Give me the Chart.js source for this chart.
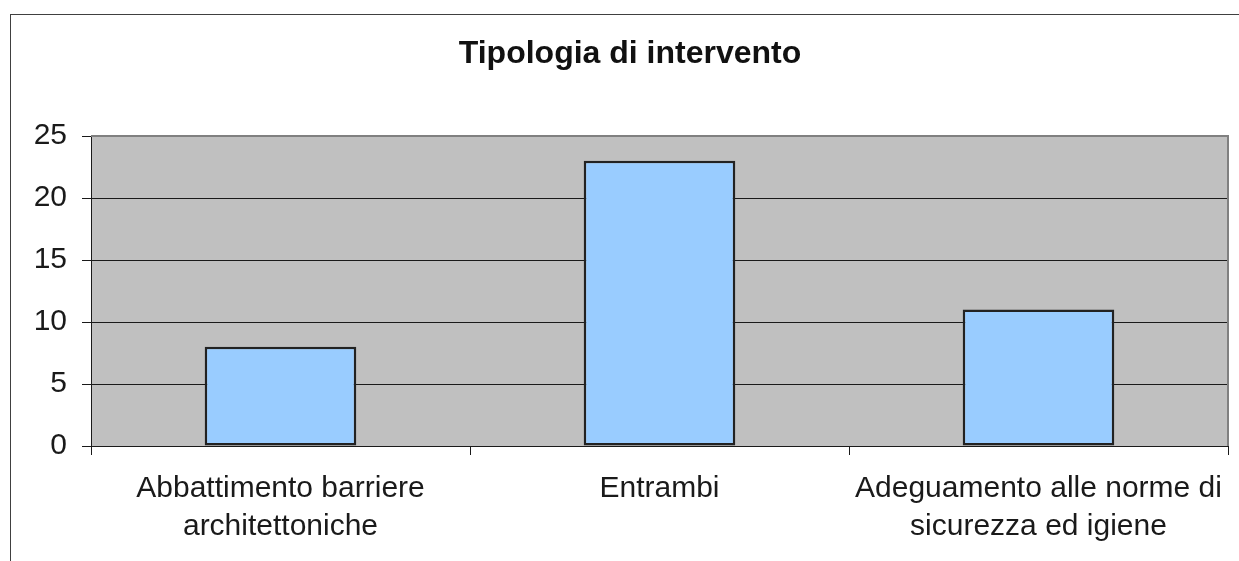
<!DOCTYPE html>
<html>
<head>
<meta charset="utf-8">
<script src="https://cdn.jsdelivr.net/npm/chart.js@4/dist/chart.umd.min.js"></script>
<style>
  body { margin: 0; background: #fff; }
  #wrap { width: 1239px; height: 561px; }
</style>
</head>
<body>
<div id="wrap"><canvas id="myChart" width="1239" height="561"></canvas></div>
<script>
const categories = [
    ['Abbattimento barriere', 'architettoniche'],
    'Entrambi',
    ['Adeguamento alle norme di', 'sicurezza ed igiene']
];
const values = [8, 23, 11];
const yTicks = [0, 5, 10, 15, 20, 25];

const fontFamily = '"Liberation Sans", Arial, sans-serif';

// outer frame + grey plot background
const framePlugin = {
    id: 'frame',
    beforeDraw(chart) {
        const ctx = chart.ctx;
        const a = chart.chartArea;
        ctx.save();
        ctx.strokeStyle = '#404040';
        ctx.lineWidth = 1;
        ctx.strokeRect(10.5, 14.5, 1400, 700);
        ctx.fillStyle = '#c0c0c0';
        ctx.fillRect(a.left, a.top, a.right - a.left, a.bottom - a.top);
        ctx.restore();
    },
    afterDraw(chart) {
        const ctx = chart.ctx;
        const a = chart.chartArea;
        ctx.save();
        ctx.strokeStyle = '#808080';
        ctx.lineWidth = 2;
        ctx.beginPath();
        ctx.moveTo(a.left, a.top);
        ctx.lineTo(a.right, a.top);
        ctx.lineTo(a.right, a.bottom);
        ctx.stroke();
        ctx.restore();
    }
};

new Chart(document.getElementById('myChart'), {
    type: 'bar',
    data: {
        labels: categories,
        datasets: [{
            data: values,
            backgroundColor: '#99ccff',
            borderColor: '#222',
            borderWidth: 2.5,
            borderSkipped: false,
            barPercentage: 0.4,
            categoryPercentage: 1.0
        }]
    },
    options: {
        responsive: false,
        animation: false,
        layout: { padding: { left: 32, right: 11, top: 0, bottom: 0 } },
        plugins: {
            legend: { display: false },
            tooltip: { enabled: false },
            title: {
                display: true,
                text: 'Tipologia di intervento',
                color: '#111',
                font: { family: fontFamily, size: 32, weight: 'bold', lineHeight: 1.2 },
                padding: { top: 35, bottom: 62.6 }
            }
        },
        scales: {
            x: {
                grid: { offset: true, drawOnChartArea: false, drawTicks: true, tickLength: 9, color: '#1a1a1a' },
                border: { display: true, color: '#1a1a1a', width: 1 },
                ticks: {
                    color: '#1a1a1a',
                    padding: 15,
                    maxRotation: 0,
                    autoSkip: false,
                    font: { family: fontFamily, size: 30, lineHeight: 1.25 }
                },
                afterFit(scale) { scale.height = 115; }
            },
            y: {
                min: 0,
                max: 25,
                afterBuildTicks(scale) { scale.ticks = yTicks.map(v => ({ value: v })); },
                grid: { color: '#1a1a1a', tickLength: 9, lineWidth: 1 },
                border: { display: true, color: '#1a1a1a', width: 1 },
                ticks: {
                    color: '#1a1a1a',
                    padding: 15,
                    font: { family: fontFamily, size: 30 }
                },
                afterFit(scale) { scale.width = 59; }
            }
        }
    },
    plugins: [framePlugin]
});
</script>
</body>
</html>
